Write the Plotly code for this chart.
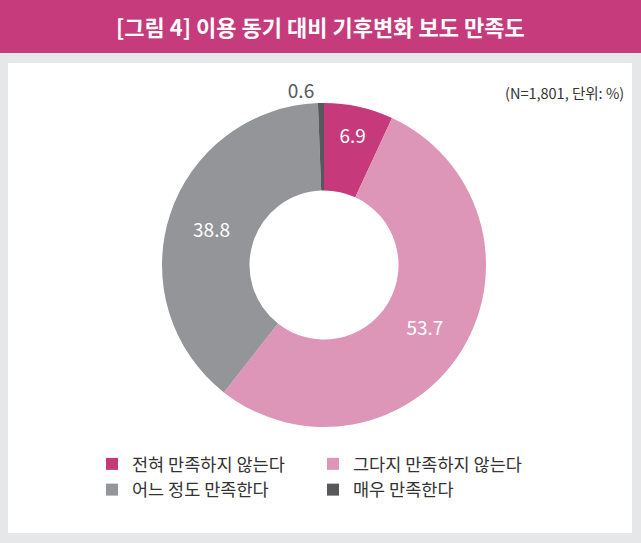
import plotly.graph_objects as go

categories = ["전혀 만족하지 않는다", "그다지 만족하지 않는다", "어느 정도 만족한다", "매우 만족한다"]
values = [6.9, 53.7, 38.8, 0.6]
colors = ["#C6397B", "#DD96B8", "#939598", "#58585A"]
text_colors = ["white", "white", "white", "#58585A"]
text_positions = ["inside", "inside", "inside", "outside"]

W, H = 641, 543
font = "Noto Sans CJK KR"

fig = go.Figure()
fig.add_trace(go.Pie(
    labels=categories,
    values=values,
    sort=False,
    direction="clockwise",
    rotation=0,
    hole=0.46,
    marker=dict(colors=colors, line=dict(width=0)),
    texttemplate="%{value}",
    textposition=text_positions,
    insidetextorientation="horizontal",
    textfont=dict(family=font, size=19, color=text_colors),
    domain=dict(x=[(324 - 162) / W, (324 + 162) / W],
                y=[1 - (265 + 190) / H, 1 - (265 - 190) / H]),
    hoverinfo="label+value",
))

fig.update_layout(
    width=W,
    height=H,
    margin=dict(l=0, r=0, t=0, b=0),
    paper_bgcolor="#E6E7E8",
    plot_bgcolor="#E6E7E8",
    font=dict(family=font, color="#333333"),
    showlegend=True,
    legend=dict(
        orientation="h",
        x=92 / W, xanchor="left",
        y=1 - 446 / H, yanchor="top",
        entrywidth=176,
        font=dict(family=font, size=17.5, color="#333333"),
        bgcolor="rgba(0,0,0,0)",
        tracegroupgap=0,
    ),
    shapes=[
        dict(type="rect", xref="paper", yref="paper", x0=0, x1=1,
             y0=1 - 53 / H, y1=1, fillcolor="#C63B7B", line=dict(width=0), layer="below"),
        dict(type="rect", xref="paper", yref="paper", x0=8 / W, x1=632 / W,
             y0=1 - 533 / H, y1=1 - 63 / H, fillcolor="white", line=dict(width=0), layer="below"),
    ],
    annotations=[
        dict(text="<b>[그림 4] 이용 동기 대비 기후변화 보도 만족도</b>", xref="paper", yref="paper",
             x=320 / W, y=1 - 26 / H, xanchor="center", yanchor="middle", showarrow=False,
             font=dict(family=font, size=22, color="white")),
        dict(text="(N=1,801, 단위: %)", xref="paper", yref="paper",
             x=626 / W, y=1 - 92 / H, xanchor="right", yanchor="middle", showarrow=False,
             font=dict(family=font, size=14.5, color="#333333")),
    ],
)

fig.write_html("out.html", config={"displayModeBar": False},
               post_script="document.body.style.margin='0';")
